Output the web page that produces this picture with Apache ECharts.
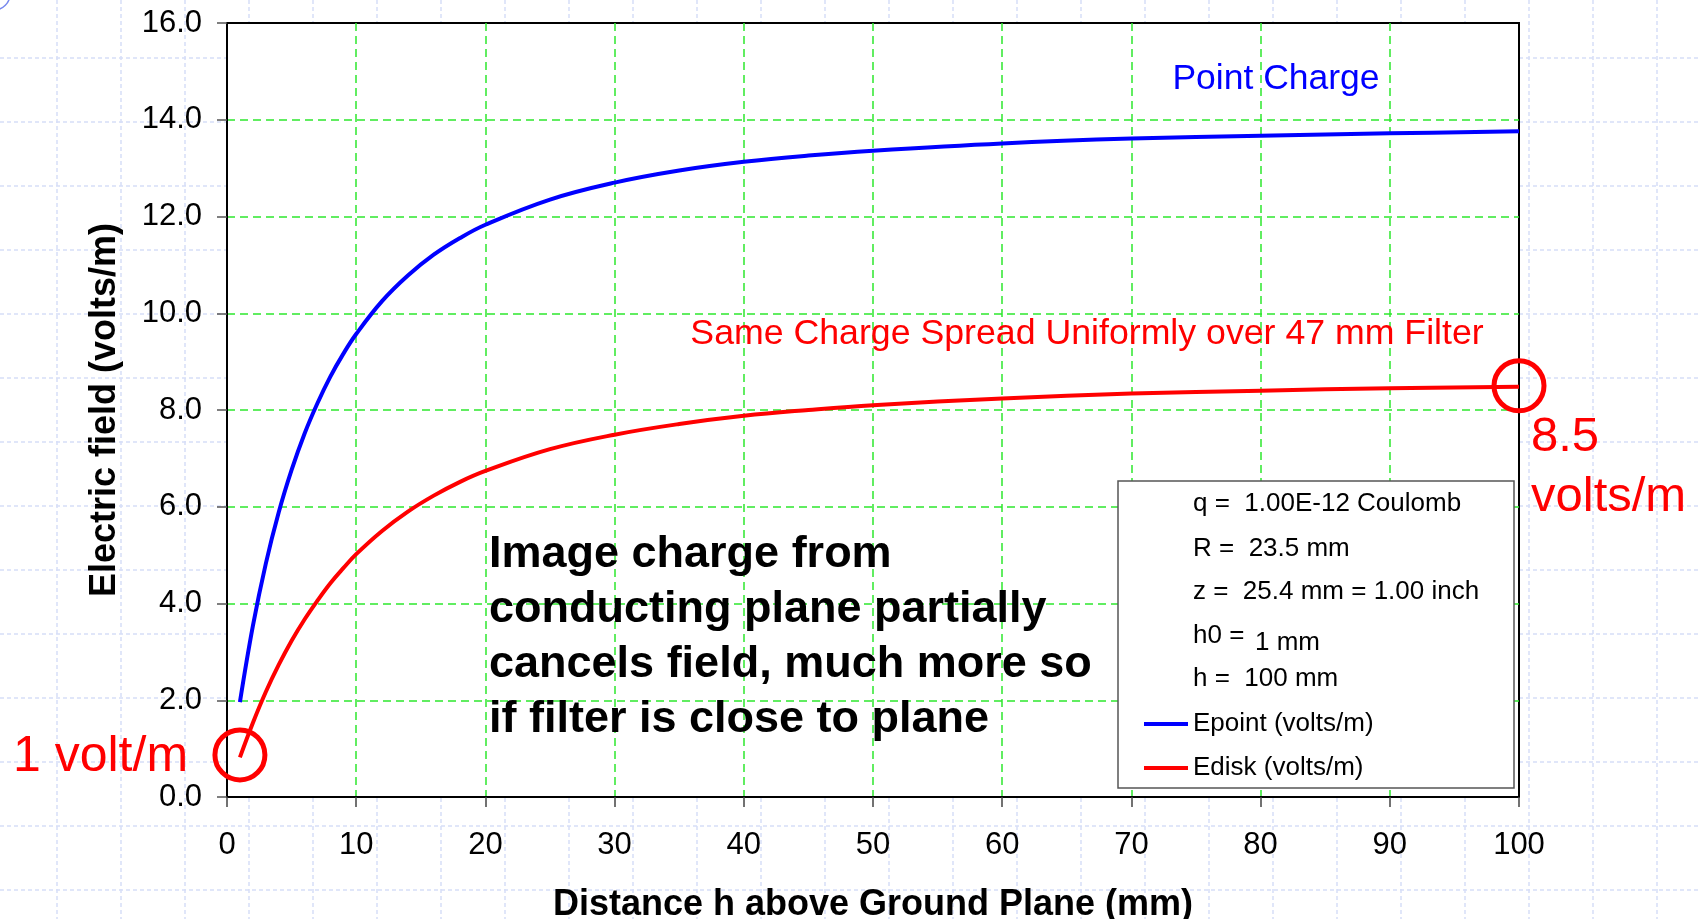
<!DOCTYPE html>
<html>
<head>
<meta charset="utf-8">
<title>Electric field vs distance above ground plane</title>
<script src="https://cdn.jsdelivr.net/npm/echarts@6.0.0/dist/echarts.min.js"></script>
<style>
  html, body { margin: 0; padding: 0; background: #fff; }
  #chart { width: 1698px; height: 919px; }
</style>
</head>
<body>
<div id="chart"></div>
<script>
// distance h above ground plane (mm)
var hValues = [1, 2, 3, 4, 5, 6, 7, 8, 9, 10, 12, 14, 16, 18, 20, 25, 30, 35, 40, 45, 50, 60, 70, 80, 90, 100];
// field of the point charge (volts/m)
var ePoint = [1.96, 3.53, 4.82, 5.88, 6.76, 7.51, 8.14, 8.69, 9.16, 9.57, 10.25, 10.78, 11.21, 11.55, 11.83,
  12.35, 12.70, 12.95, 13.13, 13.26, 13.36, 13.51, 13.61, 13.67, 13.72, 13.76];
// field of the charged disk (volts/m)
var eDisk = [0.82, 1.53, 2.17, 2.73, 3.23, 3.67, 4.06, 4.42, 4.73, 5.02, 5.50, 5.90, 6.23, 6.51, 6.74,
  7.19, 7.49, 7.71, 7.88, 8.00, 8.10, 8.24, 8.34, 8.40, 8.45, 8.48];
// circled points
var circleH = [1, 100];
var circleE = [0.87, 8.5];

var seriesNames = ['Epoint (volts/m)', 'Edisk (volts/m)'];
var paramLines = ['q =  1.00E-12 Coulomb', 'R =  23.5 mm', 'z =  25.4 mm = 1.00 inch', 'h0 =', 'h =  100 mm'];

var FONT = '"Liberation Sans", Arial, sans-serif';

function pairs(xs, ys) {
  var out = [];
  for (var i = 0; i < xs.length; i++) out.push([xs[i], ys[i]]);
  return out;
}

// faint dashed slide background
var bgLines = [];
for (var x = 57; x < 1698; x += 64) {
  bgLines.push({ type: 'line', z: -5, silent: true,
    shape: { x1: x, y1: 0, x2: x, y2: 919 },
    style: { stroke: '#d6def8', lineWidth: 1.5, lineDash: [4, 3] } });
}
for (var y = 58; y < 919; y += 64) {
  bgLines.push({ type: 'line', z: -5, silent: true,
    shape: { x1: 0, y1: y, x2: 1698, y2: y },
    style: { stroke: '#d6def8', lineWidth: 1.5, lineDash: [4, 3] } });
}
bgLines.push({ type: 'circle', z: -4, silent: true, shape: { cx: -6, cy: -6, r: 16 },
  style: { fill: 'none', stroke: '#7788ee', lineWidth: 1.5 } });

var notes = [
  { type: 'rect', z: 50, shape: { x: 1118, y: 481, width: 396, height: 307 },
    style: { fill: '#fff', stroke: '#555', lineWidth: 1.5 } }
];
var paramY = [504, 549, 592, 636, 679];
for (var i = 0; i < paramLines.length; i++) {
  notes.push({ type: 'text', z: 60, x: 1193, y: paramY[i],
    style: { text: paramLines[i], font: '26px ' + FONT, fill: '#000', textVerticalAlign: 'middle' } });
}
notes.push({ type: 'text', z: 60, x: 1255, y: 643,
  style: { text: '1 mm', font: '26px ' + FONT, fill: '#000', textVerticalAlign: 'middle' } });

notes.push({ type: 'text', z: 60, x: 1276, y: 79,
  style: { text: 'Point Charge', font: '35.5px ' + FONT, fill: '#0000ff', textAlign: 'center', textVerticalAlign: 'middle' } });
notes.push({ type: 'text', z: 60, x: 1087, y: 334,
  style: { text: 'Same Charge Spread Uniformly over 47 mm Filter', font: '35.7px ' + FONT, fill: '#ff0000', textAlign: 'center', textVerticalAlign: 'middle' } });
notes.push({ type: 'text', z: 60, x: 489, y: 527,
  style: { text: 'Image charge from\nconducting plane partially\ncancels field, much more so\nif filter is close to plane',
    font: 'bold 45px ' + FONT, lineHeight: 55, fill: '#000', textVerticalAlign: 'top' } });
notes.push({ type: 'text', z: 60, x: 13, y: 757,
  style: { text: '1 volt/m', font: '50px ' + FONT, fill: '#ff0000', textVerticalAlign: 'middle' } });
notes.push({ type: 'text', z: 60, x: 1531, y: 407,
  style: { text: '8.5\nvolts/m', font: '49px ' + FONT, lineHeight: 60, fill: '#ff0000', textVerticalAlign: 'top' } });

var chart = echarts.init(document.getElementById('chart'));

var option = {
  animation: false,
  backgroundColor: '#fff',
  grid: {
    left: 227, right: 179, top: 23, bottom: 122,
    outerBoundsMode: 'none',
    show: true, backgroundColor: '#fff', borderColor: '#000', borderWidth: 2
  },
  legend: {
    data: seriesNames,
    orient: 'vertical',
    left: 1139, top: 704,
    z: 60,
    icon: 'rect',
    itemWidth: 44, itemHeight: 4, itemGap: 14,
    textStyle: { fontFamily: FONT, fontSize: 26, lineHeight: 30, color: '#000' }
  },
  xAxis: {
    type: 'value', min: 0, max: 100, interval: 10,
    name: 'Distance h above Ground Plane (mm)',
    nameLocation: 'middle', nameGap: 90,
    nameTextStyle: { fontFamily: FONT, fontSize: 36, fontWeight: 'bold', color: '#000' },
    axisLine: { lineStyle: { color: '#000', width: 2 } },
    axisTick: { show: true, length: 10, lineStyle: { color: '#444', width: 1.5 } },
    axisLabel: { fontFamily: FONT, fontSize: 31, color: '#000', margin: 33 },
    splitLine: { show: true, showMinLine: false, showMaxLine: false,
      lineStyle: { color: '#2ee82e', width: 1.5, type: [8, 5] } }
  },
  yAxis: {
    type: 'value', min: 0, max: 16, interval: 2,
    name: 'Electric field (volts/m)',
    nameLocation: 'middle', nameGap: 104,
    nameTextStyle: { fontFamily: FONT, fontSize: 36, fontWeight: 'bold', color: '#000' },
    axisLine: { show: true, lineStyle: { color: '#000', width: 2 } },
    axisTick: { show: true, length: 10, lineStyle: { color: '#555', width: 1.5 } },
    axisLabel: { fontFamily: FONT, fontSize: 31, color: '#000', margin: 25,
      formatter: function (v) { return v.toFixed(1); } },
    splitLine: { show: true, showMinLine: false, showMaxLine: false,
      lineStyle: { color: '#2ee82e', width: 1.5, type: [8, 5] } }
  },
  graphic: { elements: bgLines.concat(notes) },
  series: [
    {
      name: seriesNames[0], type: 'line', data: pairs(hValues, ePoint),
      smooth: 0.4, showSymbol: false,
      lineStyle: { color: '#0000ff', width: 4 }, itemStyle: { color: '#0000ff' }
    },
    {
      name: seriesNames[1], type: 'line', data: pairs(hValues, eDisk),
      smooth: 0.4, showSymbol: false,
      lineStyle: { color: '#ff0000', width: 4 }, itemStyle: { color: '#ff0000' }
    },
    {
      name: 'marks', type: 'scatter', data: pairs(circleH, circleE),
      symbol: 'circle', symbolSize: 50, clip: false, silent: true, z: 5,
      itemStyle: { color: 'rgba(0,0,0,0)', borderColor: '#ff0000', borderWidth: 5, opacity: 1 }
    }
  ]
};

chart.setOption(option);
</script>
</body>
</html>
